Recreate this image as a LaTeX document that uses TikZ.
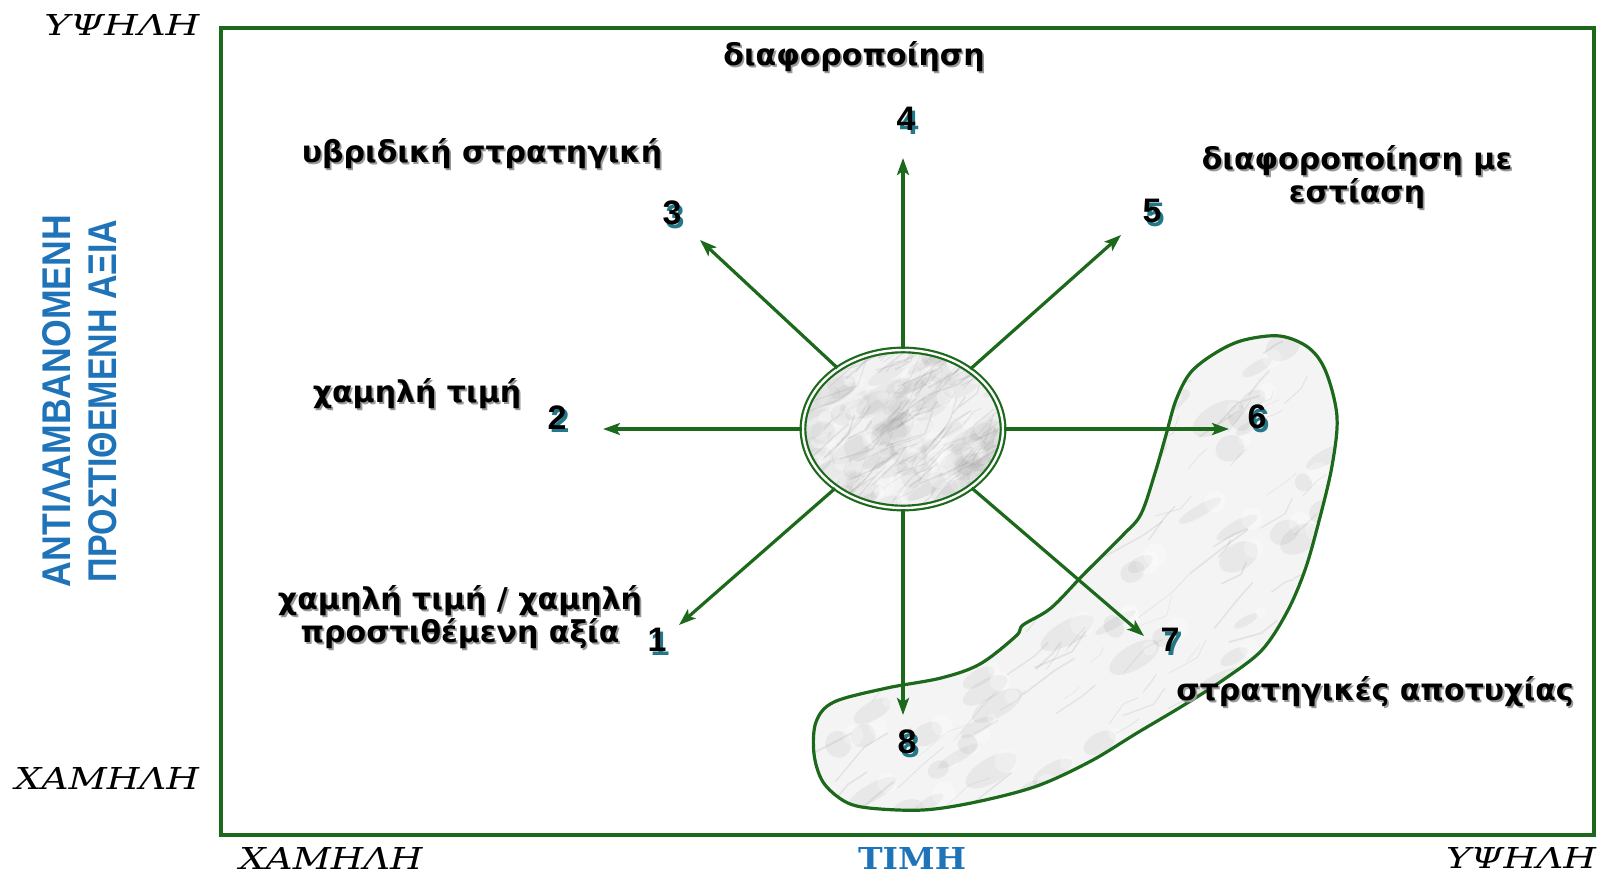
\documentclass[tikz,border=0pt]{standalone}
\usepackage{fontspec}
\usepackage{graphicx}
\usetikzlibrary{shapes.geometric,arrows.meta}
\newfontfamily\lblfont{DejaVu Sans}
\newfontfamily\serfont{DejaVu Serif}
\newfontfamily\axfont{Liberation Sans}
\definecolor{fgreen}{RGB}{28,105,28}
\definecolor{dteal}{RGB}{35,120,135}
\definecolor{axblue}{RGB}{30,115,185}
\newcommand\shd[1]{\leavevmode\rlap{\hspace{1.8pt}\raisebox{-1.8pt}{\textcolor{black!40}{#1}}}#1}
\newcommand\dig[1]{\rlap{\hspace{3pt}\raisebox{-3.5pt}{\textcolor{dteal}{#1}}}#1\hspace{3pt}}
\newcommand\marblefill[6]{%
  \fill[gray!#5] (#1,#2) rectangle (#3,#4);
  \foreach \k in {1,...,110}{%
    \pgfmathsetmacro\mxa{#1+(#3-#1)*rnd}%
    \pgfmathsetmacro\mya{#2+(#4-#2)*rnd}%
    \pgfmathsetmacro\mrx{8+24*rnd}%
    \pgfmathsetmacro\mry{4+10*rnd}%
    \fill[gray, opacity=#6, rotate around={30:(\mxa,\mya)}] (\mxa,\mya) ellipse [x radius=\mrx, y radius=\mry];
    \fill[white, opacity=0.3] (\mxa+15,\mya-9) circle [radius=4+8*rnd];
  }
  \foreach \k in {1,...,150}{%
    \pgfmathsetmacro\mxa{#1+(#3-#1)*rnd}%
    \pgfmathsetmacro\mya{#2+(#4-#2)*rnd}%
    \pgfmathsetmacro\mlen{10+35*rnd}%
    \pgfmathsetmacro\mlw{0.4+1.4*rnd}%
    \pgfmathsetmacro\man{-15-40*rnd}%
    \pgfmathsetmacro\mbn{-15-60*rnd}%
    \draw[gray, opacity=0.15, line width=\mlw pt, line cap=round] (\mxa,\mya) -- ++(\man:\mlen) -- ++(\mbn:\mlen*0.6);
  }}
\begin{document}
\begin{tikzpicture}[x=1pt,y=-1pt,
  arr/.style={draw=fgreen, line width=3.2pt, -{Stealth[length=17pt,width=12pt,inset=4pt]}},
  lbl/.style={font=\lblfont\bfseries\fontsize{30}{33}\selectfont, align=center, inner sep=0pt},
  num/.style={font=\axfont\bfseries\fontsize{34}{34}\selectfont, inner sep=0pt},
  axlbl/.style={inner sep=0pt}]
\pgfmathsetseed{12}
\fill[white] (0,0) rectangle (1602,874);
\useasboundingbox (0,0) rectangle (1602,874);
\draw[fgreen, line width=3.8pt] (221,28) rectangle (1594,835);

% failure blob
\begin{scope}
\clip plot[smooth cycle, tension=0.55] coordinates {(1217,352) (1244,340) (1280,336) (1309,348) (1326,372) (1337,417) (1332,466) (1319,521) (1305,570) (1287,612) (1262,650) (1226,678) (1184,705) (1137,733) (1091,761) (1037,786) (976,802) (923,810) (869,808) (844,801) (823,782) (814,754) (816,722) (834,702) (887,688) (941,678) (980,664) (1016,636) (1023,625) (1051,608) (1084,574) (1123,535) (1141,514) (1155,473) (1166,435) (1176,400) (1191,372)};
\marblefill{800}{330}{1345}{820}{9}{0.1}
\end{scope}
\draw[fgreen, line width=3.2pt] plot[smooth cycle, tension=0.55] coordinates {(1217,352) (1244,340) (1280,336) (1309,348) (1326,372) (1337,417) (1332,466) (1319,521) (1305,570) (1287,612) (1262,650) (1226,678) (1184,705) (1137,733) (1091,761) (1037,786) (976,802) (923,810) (869,808) (844,801) (823,782) (814,754) (816,722) (834,702) (887,688) (941,678) (980,664) (1016,636) (1023,625) (1051,608) (1084,574) (1123,535) (1141,514) (1155,473) (1166,435) (1176,400) (1191,372)};

% centre ellipse
\begin{scope}
\clip (903,429) ellipse [x radius=100, y radius=79];
\marblefill{800}{345}{1005}{512}{10}{0.08}
\end{scope}
\node[ellipse, draw=fgreen, double=white, double distance=2.4pt, line width=2.2pt, minimum width=200pt, minimum height=158pt, inner sep=0pt] (c) at (903,429) {};

% arrow ends
\coordinate (e1) at (679,625);
\coordinate (e2) at (603,429);
\coordinate (e3) at (700,240);
\coordinate (e4) at (903,158);
\coordinate (e5) at (1121,235);
\coordinate (e6) at (1229,429);
\coordinate (e7) at (1144,636);
\coordinate (e8) at (903,715);
\foreach \e in {e1,e2,e3,e4,e5,e6,e7,e8}{\draw[arr] (c) -- (\e);}

% numbers
\node[num] (n1) at (657,642) {\dig{1}};
\node[num] (n2) at (557,419) {\dig{2}};
\node[num] (n3) at (672,215) {\dig{3}};
\node[num] (n4) at (906,121) {\dig{4}};
\node[num] (n5) at (1152,213) {\dig{5}};
\node[num] (n6) at (1257,419) {\dig{6}};
\node[num] (n7) at (1170,642) {\dig{7}};
\node[num] (n8) at (907,744) {\dig{8}};

% labels
\node[lbl] (l4) at (854,58) {\shd{διαφοροποίηση}};
\node[lbl] (l3) at (482,155) {\shd{υβριδική στρατηγική}};
\node[lbl] (l5) at (1357,178) {\shd{διαφοροποίηση με}\\\shd{εστίαση}};
\node[lbl] (l2) at (417,395) {\shd{χαμηλή τιμή}};
\node[lbl] (l1) at (460,618) {\shd{χαμηλή τιμή / χαμηλή}\\\shd{προστιθέμενη αξία}};
\node[lbl] (l6) at (1375,693) {\shd{στρατηγικές αποτυχίας}};

% axis labels
\node[axlbl] (yhi) at (122,25) {\resizebox{155pt}{21pt}{\serfont\itshape ΥΨΗΛΗ}};
\node[axlbl] (ylo) at (107,778) {\resizebox{184pt}{22pt}{\serfont\itshape ΧΑΜΗΛΗ}};
\node[axlbl] (xlo) at (331,858) {\resizebox{183pt}{22pt}{\serfont\itshape ΧΑΜΗΛΗ}};
\node[axlbl] (xhi) at (1521,858) {\resizebox{150pt}{21pt}{\serfont\itshape ΥΨΗΛΗ}};
\node[axlbl, text=axblue] (xt) at (912,858) {\resizebox{108pt}{22pt}{\serfont\bfseries ΤΙΜΗ}};
\node[axlbl, rotate=90, text=axblue] (yt1) at (57,401) {\resizebox{372pt}{28pt}{\axfont\bfseries ΑΝΤΙΛΑΜΒΑΝΟΜΕΝΗ}};
\node[axlbl, rotate=90, text=axblue] (yt2) at (103,401) {\resizebox{363pt}{28pt}{\axfont\bfseries ΠΡΟΣΤΙΘΕΜΕΝΗ ΑΞΙΑ}};
\end{tikzpicture}
\end{document}
